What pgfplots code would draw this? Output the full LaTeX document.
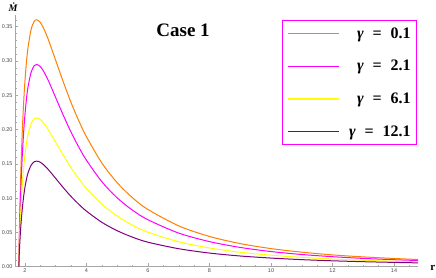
\documentclass[border=0pt]{standalone}
\usepackage{fontspec}
\setmainfont{Liberation Serif}
\newfontfamily\ticksf{Liberation Sans}
\usepackage{pgfplots}
\usepackage{pgfplotstable}
\pgfplotsset{compat=1.18}
\definecolor{mOrange}{rgb}{1,0.5,0}
\definecolor{mMagenta}{rgb}{1,0,1}
\definecolor{mYellow}{rgb}{1,1,0}
\definecolor{mPurple}{rgb}{0.5,0,0.5}
\pgfplotstableread{
r O M Y P
1.80 0 0 0 0
1.81 0.0339 0.0278 0.0204 0.0145
1.82 0.0581 0.0476 0.0350 0.0249
1.84 0.0979 0.0802 0.0590 0.0419
1.86 0.1309 0.1073 0.0789 0.0560
1.89 0.1721 0.1410 0.1037 0.0736
1.92 0.2060 0.1688 0.1241 0.0881
1.96 0.2426 0.1988 0.1462 0.1038
2.00 0.2715 0.2225 0.1637 0.1161
2.05 0.2995 0.2454 0.1805 0.1281
2.10 0.3203 0.2624 0.1930 0.1370
2.20 0.3461 0.2836 0.2086 0.1481
2.30 0.3577 0.2931 0.2156 0.1530
2.38 0.3600 0.2950 0.2170 0.1540
2.50 0.3560 0.2917 0.2146 0.1523
2.60 0.3481 0.2853 0.2098 0.1489
2.70 0.3379 0.2769 0.2037 0.1445
2.80 0.3262 0.2673 0.1966 0.1395
3.00 0.3006 0.2463 0.1812 0.1286
3.25 0.2689 0.2204 0.1621 0.1150
3.50 0.2390 0.1959 0.1441 0.1023
3.75 0.2128 0.1743 0.1282 0.0910
4.00 0.1894 0.1552 0.1141 0.0810
4.50 0.1512 0.1239 0.0912 0.0647
5.00 0.1224 0.1003 0.0738 0.0524
5.50 0.1004 0.0823 0.0605 0.0430
6.00 0.0834 0.0684 0.0503 0.0357
7.00 0.0595 0.0490 0.0364 0.0262
8.00 0.0441 0.0366 0.0273 0.0199
9.00 0.0337 0.0281 0.0211 0.0156
10.0 0.0264 0.0221 0.0168 0.0126
11.0 0.0212 0.0178 0.0136 0.0103
12.0 0.0172 0.0146 0.0112 0.0086
13.0 0.0143 0.0121 0.0094 0.0073
14.0 0.0120 0.0102 0.0080 0.0063
14.78 0.0105 0.0090 0.0071 0.0056
}\datatable
\newcommand{\gsp}{\hspace{0.55em}}
\begin{document}
\begin{tikzpicture}
\begin{axis}[
  scale only axis,
  width=403pt, height=251.7pt,
  xmin=1.675, xmax=14.78,
  ymin=0, ymax=0.367,
  axis x line=bottom, axis y line=left,
  axis line style={gray!70, line width=0.8pt, -},
  xtick={2,4,...,14},
  minor xtick={2.5,3,...,14.5},
  ytick={0,0.05,...,0.351},
  minor ytick={0.01,0.02,...,0.36},
  tick align=inside,
  major tick length=3.5pt, minor tick length=2pt,
  tick style={gray!70, line width=0.5pt},
  tick label style={font=\ticksf\fontsize{5.5}{6}\selectfont, text=black!70},
  /pgf/number format/assume math mode=true,
  yticklabel style={/pgf/number format/fixed, /pgf/number format/fixed zerofill, /pgf/number format/precision=2, xshift=1pt},
  xticklabel style={yshift=1.5pt},
  scaled y ticks=false,
  clip=false,
  legend cell align=right,
  legend image code/.code={\draw[#1, line width=1.3pt] (0pt,0pt) -- (51pt,0pt);},
  legend style={at={(rel axis cs:0.9975,0.979)}, anchor=north east,
    draw=mMagenta, line width=0.9pt, font=\bfseries\fontsize{16}{18}\selectfont,
    row sep=16.5pt, column sep=8pt, inner xsep=4pt, inner ysep=5pt,
    nodes={inner sep=2pt}},
]
\addplot[mOrange, line width=1pt, smooth] table[x=r, y=O] {\datatable};
\addlegendentry{\textit{γ}\gsp=\gsp0.1}
\addplot[mMagenta, line width=1pt, smooth] table[x=r, y=M] {\datatable};
\addlegendentry{\textit{γ}\gsp=\gsp2.1}
\addplot[mYellow, line width=1pt, smooth] table[x=r, y=Y] {\datatable};
\addlegendentry{\textit{γ}\gsp=\gsp6.1}
\addplot[mPurple, line width=1pt, smooth] table[x=r, y=P] {\datatable};
\addlegendentry{\textit{γ}\gsp=\gsp12.1}
\node[font=\bfseries\fontsize{19}{21}\selectfont] at (axis cs:7.14,0.344) {Case 1};
\node[font=\bfseries\itshape\fontsize{10}{11}\selectfont] at (rel axis cs:-0.005,1.032) {\.M};
\node[font=\bfseries\fontsize{11}{12}\selectfont] at (rel axis cs:1.037,-0.005) {r};
\end{axis}
\pgfresetboundingbox
\path (-15pt,-10.3pt) rectangle (421pt,266.7pt);
\end{tikzpicture}
\end{document}
